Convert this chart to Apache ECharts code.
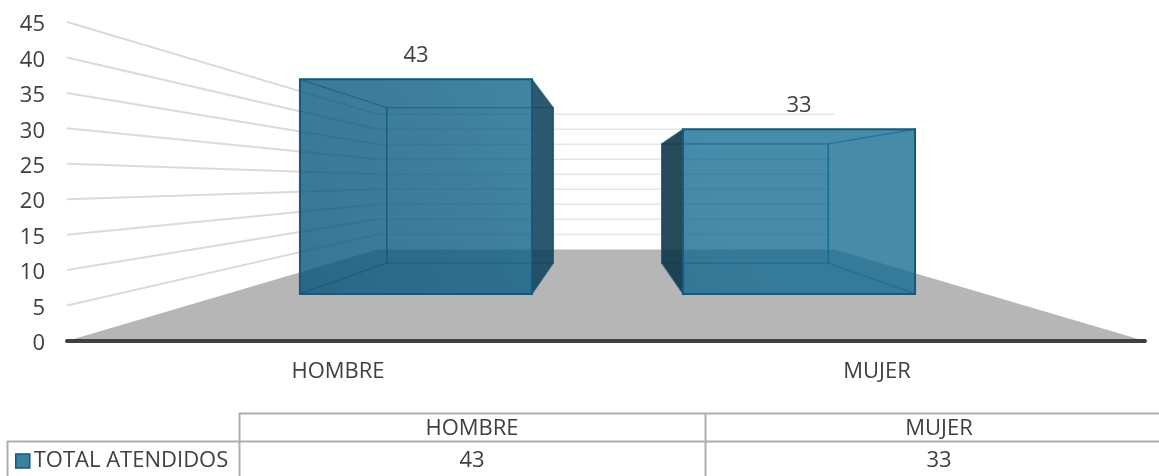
<!DOCTYPE html>
<html><head><meta charset="utf-8">
<style>html,body{margin:0;padding:0;background:#fff}#c{width:1159px;height:476px}</style>
<script src="https://cdn.jsdelivr.net/npm/echarts@6/dist/echarts.min.js"></script>
</head><body><div id="c"></div>
<script>
const categories = ['HOMBRE', 'MUJER'];
const totalAtendidos = [43, 33];
const seriesName = 'TOTAL ATENDIDOS';
const yTicks = [0, 5, 10, 15, 20, 25, 30, 35, 40, 45];

const FONT = '"Open Sans", sans-serif';
const TEXT = '#404040';
const FS = 22;
const VX = 606, VY = 182;           // vanishing point of the 3D view
const BAR_VX = 607.5;
const BACK = 0.424;                 // scale of the back wall
const BAR_FRONT_X = 0.7106, BAR_FRONT_Y = 0.704, BAR_BACK = 0.51, BAR_W = 0.606;

const P = (p, sx, sy, vx) => {
  const cx = vx === undefined ? VX : vx;
  return [cx + (p[0] - VX) * sx, VY + (p[1] - VY) * (sy === undefined ? sx : sy)];
};

const chart = echarts.init(document.getElementById('c'), null, {renderer: 'canvas'});

const floorSeries = {
  type: 'custom', silent: true, z: 1, coordinateSystem: 'cartesian2d',
  data: [0], encode: {y: 0},
  renderItem(params, api) {
    const w = api.size([1, 0])[0];
    const a = api.coord([0, 0]); const l = [a[0] - w / 2, a[1]]; const r = [l[0] + w * 2, a[1]];
    return {type: 'polygon', shape: {points: [l, P(l, BACK), P(r, BACK), r]}, style: {fill: '#b6b6b6'}};
  }
};
const gridSeries = {
  type: 'custom', silent: true, z: 2, coordinateSystem: 'cartesian2d',
  data: yTicks.filter(v => v > 0).map(v => [0, v]),
  renderItem(params, api) {
    const w = api.size([1, 0])[0];
    const c = api.coord([0, api.value(1)]);
    const l = [c[0] - w / 2, c[1]], r = [l[0] + w * 2, c[1]];
    return {type: 'group', children: [
      {type: 'polyline', shape: {points: [l, P(l, BACK)]},
        style: {fill: 'none', stroke: '#dadada', lineWidth: 2}},
      {type: 'polyline', shape: {points: [P(l, BACK), P(r, BACK)]},
        style: {fill: 'none', stroke: '#e6e6e6', lineWidth: 1.5}}
    ]};
  }
};
const barFill = new echarts.graphic.LinearGradient(300, 294, 700, 129, [
  {offset: 0, color: 'rgba(6,84,121,0.80)'},
  {offset: 0.5, color: 'rgba(10,92,132,0.78)'},
  {offset: 1, color: 'rgba(13,103,143,0.76)'}
], true);
const LINE = '#17597a';
const INNER = 'rgba(20,89,123,0.6)';
const barSeries = {
  type: 'custom', name: seriesName, z: 3, coordinateSystem: 'cartesian2d',
  data: categories.map((c, i) => [i, totalAtendidos[i]]),
  renderItem(params, api) {
    const i = api.value(0), v = api.value(1);
    const band = api.size([1, 0])[0];
    const cx = api.coord([i, 0])[0];
    const b = api.coord([i, 0])[1], t = api.coord([i, v])[1];
    const L = cx - band * BAR_W / 2, R = cx + band * BAR_W / 2;
    const f = p => P(p, BAR_FRONT_X, BAR_FRONT_Y, BAR_VX), k = p => P(p, BAR_BACK, BAR_BACK, BAR_VX);
    const fTL = f([L, t]), fTR = f([R, t]), fBL = f([L, b]), fBR = f([R, b]);
    const kTL = k([L, t]), kTR = k([R, t]), kBL = k([L, b]), kBR = k([R, b]);
    const poly = (pts, fill, lw, stroke) => ({type: 'polygon', shape: {points: pts},
      style: {fill: fill, stroke: stroke || LINE, lineWidth: lw}});
    const leftOut = fTL[0] < kTL[0];
    const sideL = 'rgba(10,50,70,0.88)', sideR = 'rgba(15,66,92,0.88)';
    return {type: 'group', children: [
      poly([kTL, kTR, kBR, kBL], 'rgba(0,0,0,0)', 1.3, INNER),
      poly([fTL, kTL, kBL, fBL], leftOut ? 'rgba(0,0,0,0)' : sideL, 1.3, INNER),
      poly([fTR, kTR, kBR, fBR], leftOut ? sideR : 'rgba(0,0,0,0)', 1.3, INNER),
      poly([fTL, fTR, fBR, fBL], barFill, 2),
      {type: 'text', style: {text: String(v), x: (fTL[0] + fTR[0]) / 2, y: fTL[1] - 24,
        align: 'center', verticalAlign: 'middle', fill: TEXT, font: FS + 'px ' + FONT}}
    ]};
  }
};

/* data table under the chart */
const GREY = '#aeaeae';
const hLine = (x1, x2, y) => ({type: 'line', shape: {x1, y1: y, x2, y2: y}, style: {stroke: GREY, lineWidth: 2}});
const vLine = (x, y1, y2) => ({type: 'line', shape: {x1: x, y1, x2: x, y2}, style: {stroke: GREY, lineWidth: 2}});
const cell = (text, x, y) => ({type: 'text', style: {text, x, y, align: 'center', verticalAlign: 'middle', fill: TEXT, font: FS + 'px ' + FONT}});
const colCentres = [472, 939];
const tableGraphic = [
  hLine(239, 1159, 413.5), hLine(7, 1159, 441.5),
  vLine(7.5, 441, 476), vLine(239.5, 413, 476), vLine(705.5, 413, 476),
  ...categories.map((c, i) => cell(c, colCentres[i], 429)),
  ...totalAtendidos.map((v, i) => cell(String(v), colCentres[i], 461))
];

chart.setOption({
  animation: false,
  backgroundColor: '#fff',
  grid: {left: 67, right: 14, top: 22, bottom: 135, containLabel: false},
  xAxis: {type: 'category', data: categories, boundaryGap: true, z: 5,
    axisTick: {show: false},
    axisLine: {show: true, lineStyle: {color: '#404040', width: 4, cap: 'round'}},
    axisLabel: {color: TEXT, fontFamily: FONT, fontSize: FS, margin: 20, padding: [0, 0, 0, 3]}},
  yAxis: {type: 'value', min: 0, max: 45, interval: 5,
    axisLine: {show: false}, axisTick: {show: false}, splitLine: {show: false},
    axisLabel: {color: TEXT, fontFamily: FONT, fontSize: FS, margin: 22,
      verticalAlign: 'top', lineHeight: 6}},
  legend: {show: true, left: 15, top: 450, itemWidth: 14, itemHeight: 14, itemGap: 0,
    padding: [0, 0, 0, 0],
    data: [{name: seriesName, icon: 'rect',
      itemStyle: {color: '#3d7f9f', borderColor: '#14597b', borderWidth: 1.5}}],
    textStyle: {color: TEXT, fontFamily: FONT, fontSize: FS, padding: [0, 0, 0, -1]}},
  series: [floorSeries, gridSeries, barSeries],
  graphic: tableGraphic
});
</script></body></html>
